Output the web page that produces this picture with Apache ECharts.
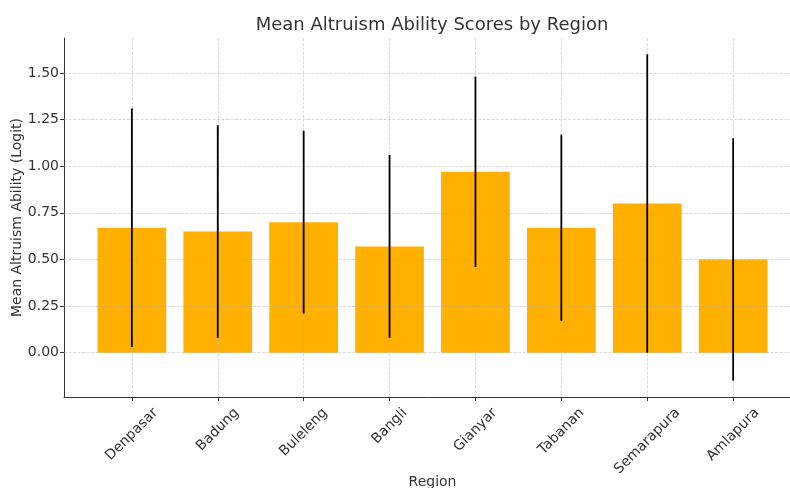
<!DOCTYPE html>
<html>
<head>
<meta charset="utf-8">
<script src="https://cdn.jsdelivr.net/npm/echarts@6/dist/echarts.min.js"></script>
<style>html,body{margin:0;padding:0;background:#fff}#c{width:790px;height:488px}</style>
</head>
<body>
<div id="c"></div>
<script>
const regions = ['Denpasar', 'Badung', 'Buleleng', 'Bangli', 'Gianyar', 'Tabanan', 'Semarapura', 'Amlapura'];
const meanScores = [0.67, 0.65, 0.70, 0.57, 0.97, 0.67, 0.80, 0.50];
const errors = [0.64, 0.57, 0.49, 0.49, 0.51, 0.50, 0.80, 0.65];
const yTicks = [0, 0.25, 0.5, 0.75, 1.0, 1.25, 1.5];

const FONT = '"DejaVu Sans", sans-serif';
const TXT = '#333333';
const FS = 14;
const xMin = -0.79, xMax = 7.79, yMin = -0.2375, yMax = 1.6875;
const gridLeft = 64, gridTop = 38, gridW = 737, gridH = 359;
const pxPerUnit = gridW / (xMax - xMin);
const xIdx = regions.map((_, i) => i);

// measure label widths for matplotlib-like centered rotation
const cv = document.createElement('canvas').getContext('2d');
cv.font = FS + 'px "DejaVu Sans"';
const rich = {};
regions.forEach((r, i) => {
  const L = cv.measureText(r).width;
  const P = 0.5 * (L + 16);
  rich['r' + i] = { fontSize: FS, color: TXT, fontFamily: FONT, padding: [P, P, 0, 0], align: 'center', verticalAlign: 'middle' };
});

const gridStyle = { color: 'rgba(170,170,170,0.55)', width: 0.8, type: [3, 1.5] };

const chart = echarts.init(document.getElementById('c'), null, { renderer: 'canvas' });
chart.setOption({
  animation: false,
  backgroundColor: '#ffffff',
  textStyle: { fontFamily: FONT, color: TXT },
  title: {
    text: 'Mean Altruism Ability Scores by Region',
    left: 427, top: 11, textAlign: 'center',
    textStyle: { fontFamily: FONT, fontSize: 18, fontWeight: 'normal', color: TXT }
  },
  grid: { left: gridLeft, top: gridTop, width: gridW, height: gridH, outerBoundsMode: 'none', containLabel: false },
  xAxis: {
    type: 'value', min: xMin, max: xMax,
    name: 'Region', nameLocation: 'middle', nameGap: 78, nameMoveOverlap: false,
    nameTextStyle: { fontFamily: FONT, fontSize: FS, color: TXT },
    axisLine: { show: true, onZero: false, lineStyle: { color: '#333', width: 1 } },
    axisTick: { show: true, customValues: xIdx, length: 4, lineStyle: { color: '#333' } },
    axisLabel: {
      customValues: xIdx, rotate: 45, margin: 8,
      formatter: v => { const i = Math.round(v); return '{r' + i + '|' + regions[i] + '}'; },
      rich: rich, align: 'center', verticalAlign: 'middle'
    },
    splitLine: { show: false }
  },
  yAxis: {
    type: 'value', min: yMin, max: yMax,
    name: 'Mean Altruism Ability (Logit)', nameLocation: 'middle', nameGap: 40, nameMoveOverlap: false,
    nameTextStyle: { fontFamily: FONT, fontSize: FS, color: TXT },
    axisLine: { show: true, onZero: false, lineStyle: { color: '#333', width: 1 } },
    axisTick: { show: true, customValues: yTicks, length: 4, lineStyle: { color: '#333' } },
    axisLabel: { customValues: yTicks, fontSize: FS, color: TXT, fontFamily: FONT, margin: 5, formatter: v => v.toFixed(2) },
    splitLine: { show: false }
  },
  series: [
    {
      type: 'bar',
      data: xIdx.map(i => [i, meanScores[i]]),
      barWidth: 0.8 * pxPerUnit,
      itemStyle: { color: '#ffb000' },
      z: 2,
      markLine: {
        silent: true, symbol: 'none', animation: false,
        label: { show: false },
        lineStyle: gridStyle,
        z: 5,
        data: yTicks.map(v => ({ yAxis: v })).concat(xIdx.map(i => ({ xAxis: i })))
      }
    },
    {
      type: 'custom',
      z: 10,
      data: xIdx.map(i => [i, meanScores[i] - errors[i], meanScores[i] + errors[i]]),
      renderItem: (params, api) => {
        const lo = api.coord([api.value(0), api.value(1)]);
        const hi = api.coord([api.value(0), api.value(2)]);
        return { type: 'line', shape: { x1: lo[0], y1: lo[1], x2: hi[0], y2: hi[1] }, style: { stroke: '#000', lineWidth: 1.8 } };
      }
    }
  ]
});
</script>
</body>
</html>
